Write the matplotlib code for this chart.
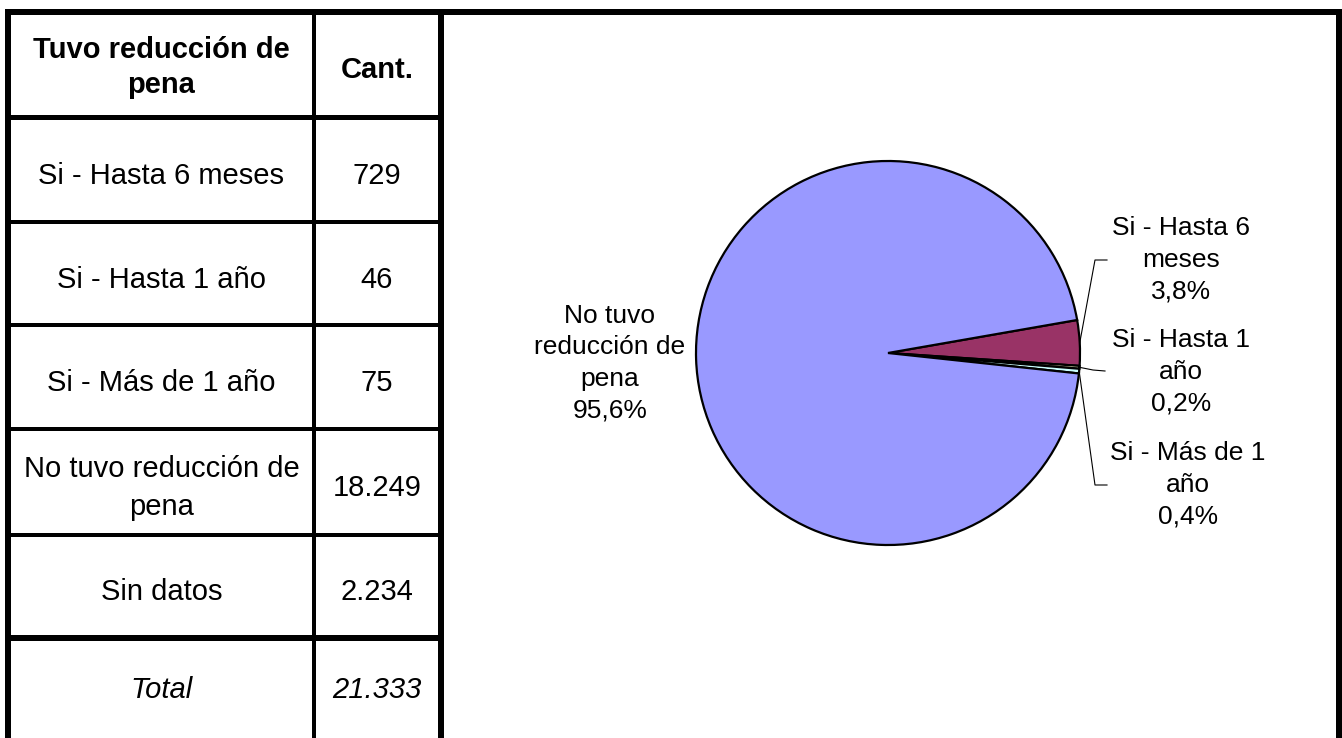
import matplotlib
matplotlib.use("Agg")
import matplotlib.pyplot as plt
import numpy as np

# ---- data ----
header = ["Tuvo reducción de\npena", "Cant."]
categories = ["Si - Hasta 6 meses", "Si - Hasta 1 año", "Si - Más de 1 año",
              "No tuvo reducción de\npena", "Sin datos"]
counts = [729, 46, 75, 18249, 2234]
total_label = ["Total", "21.333"]

pie_labels = ["Si - Hasta 6\nmeses", "Si - Hasta 1\naño", "Si - Más de 1\naño",
              "No tuvo\nreducción de\npena"]
pie_values = [729, 46, 75, 18249]
pie_colors = ["#993366", "#FFFFCC", "#CCFFFF", "#9999FF"]

def fmt_int(v):
    return f"{v:,}".replace(",", ".")

def pct_labels(values):
    # largest-remainder rounding to 0.1 % so the shares add up to 100 %
    tot = sum(values)
    raw = [1000 * v / tot for v in values]
    fl = [int(np.floor(x)) for x in raw]
    rest = 1000 - sum(fl)
    order = sorted(range(len(raw)), key=lambda i: raw[i] - fl[i], reverse=True)
    for i in order[:rest]:
        fl[i] += 1
    return [f"{x / 10:.1f}%".replace(".", ",") for x in fl]

W, H = 1342, 738
fig = plt.figure(figsize=(W / 100, H / 100), dpi=100)
FONT = "Liberation Sans"

# ---- pie ----
cx, cy, r = 888, 353, 192
pax = fig.add_axes([(cx - r) / W, (H - cy - r) / H, 2 * r / W, 2 * r / H])
wedges, _ = pax.pie(pie_values, colors=pie_colors, startangle=9.9, counterclock=False,
                    radius=1.0, wedgeprops=dict(edgecolor="black", linewidth=1.6))
pax.set_xlim(-1, 1)
pax.set_ylim(-1, 1)
pax.set_aspect("equal")
pax.axis("off")

# ---- overlay in pixel coordinates ----
ax = fig.add_axes([0, 0, 1, 1])
ax.set_xlim(0, W)
ax.set_ylim(H, 0)
ax.axis("off")
ax.patch.set_alpha(0)

def px_lw(p):
    return p * 0.72

# borders
ax.plot([5, W], [12, 12], color="black", lw=px_lw(6), solid_capstyle="butt")
ax.plot([8, 8], [9, H], color="black", lw=px_lw(6), solid_capstyle="butt")
ax.plot([441, 441], [9, H], color="black", lw=px_lw(6), solid_capstyle="butt")
ax.plot([1339, 1339], [9, H], color="black", lw=px_lw(6), solid_capstyle="butt")
ax.plot([314, 314], [12, H], color="black", lw=px_lw(4), solid_capstyle="butt")

row_edges = [12, 117, 222, 325, 429, 535, 638, 738]
thick = {117: 5, 638: 6}
for y in row_edges[1:-1]:
    ax.plot([8, 441], [y, y], color="black", lw=px_lw(thick.get(y, 4)), solid_capstyle="butt")

col1_x, col2_x = (11 + 312) / 2, (316 + 438) / 2
TS = 21
# header
yc = (row_edges[0] + row_edges[1]) / 2 + 3
ax.text(col1_x, yc, header[0], ha="center", va="center", fontsize=TS, fontweight="bold",
        family=FONT, linespacing=1.3)
ax.text(col2_x, yc + 3, header[1], ha="center", va="center", fontsize=TS, fontweight="bold",
        family=FONT)
for i, (cat, val) in enumerate(zip(categories, counts)):
    yc = (row_edges[i + 1] + row_edges[i + 2]) / 2 + 6
    ax.text(col1_x, yc, cat, ha="center", va="center", fontsize=TS, family=FONT, linespacing=1.45)
    ax.text(col2_x, yc, fmt_int(val), ha="center", va="center", fontsize=TS, family=FONT)
yc = (row_edges[-2] + row_edges[-1]) / 2 + 2
ax.text(col1_x, yc, total_label[0], ha="center", va="center", fontsize=TS, family=FONT, style="italic")
ax.text(col2_x, yc, total_label[1], ha="center", va="center", fontsize=TS, family=FONT, style="italic")

# pie labels
pcts = pct_labels(pie_values)
PS = 19
label_pos = [(1181, 260), (1181, 372), (1188, 485), (610, 363)]
for lab, pct, (lx, ly) in zip(pie_labels, pcts, label_pos):
    ax.text(lx, ly, lab + "\n" + pct, ha="center", va="center", fontsize=PS, family=FONT,
            linespacing=1.4)

# leader lines from wedge mid-angles to right labels
elbows = [((1095, 260), (1107, 260)), ((1093, 370), (1105, 371)), ((1095, 485), (1107, 485))]
for w, (e1, e2) in zip(wedges[:3], elbows):
    ang = np.deg2rad((w.theta1 + w.theta2) / 2)
    px = cx + r * np.cos(ang)
    py = cy - r * np.sin(ang)
    ax.plot([px, e1[0], e2[0]], [py, e1[1], e2[1]], color="black", lw=0.8)

fig.savefig("out.png", dpi=100)
